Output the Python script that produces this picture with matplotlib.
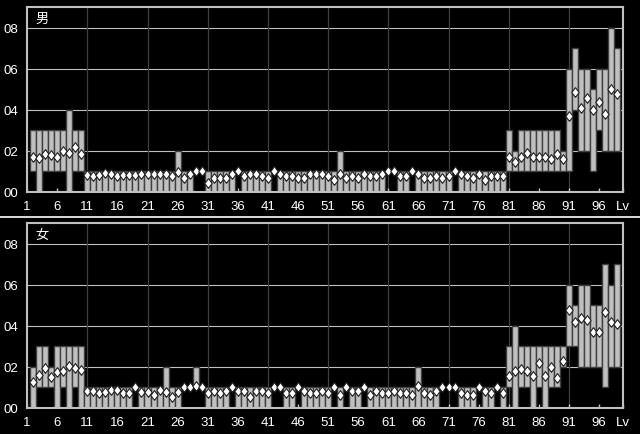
import matplotlib
matplotlib.use("Agg")
import matplotlib.pyplot as plt
from matplotlib.lines import Line2D

# levels 2..99 (level 1 has no data)
levels = list(range(2, 100))

male_min = [1, 0, 1, 1, 1, 1, 0, 1, 1,
            0, 0, 0, 0, 0, 0, 0, 0, 0, 0,
            0, 0, 0, 0, 0, 0, 0, 0, 1, 1,
            0, 0, 0, 0, 0, 1, 0, 0, 0, 0,
            0, 1, 0, 0, 0, 0, 0, 0, 0, 0,
            0, 0, 0, 0, 0, 0, 0, 0, 0, 0,
            1, 1, 0, 0, 1, 0, 0, 0, 0, 0,
            0, 1, 0, 0, 0, 0, 0, 0, 0, 0,
            1, 1, 1, 1, 1, 1, 1, 1, 1, 1,
            1, 4, 2, 2, 1, 3, 2, 2, 2]
male_max = [3, 3, 3, 3, 3, 3, 4, 3, 3,
            1, 1, 1, 1, 1, 1, 1, 1, 1, 1,
            1, 1, 1, 1, 1, 2, 1, 1, 1, 1,
            1, 1, 1, 1, 1, 1, 1, 1, 1, 1,
            1, 1, 1, 1, 1, 1, 1, 1, 1, 1,
            1, 1, 2, 1, 1, 1, 1, 1, 1, 1,
            1, 1, 1, 1, 1, 1, 1, 1, 1, 1,
            1, 1, 1, 1, 1, 1, 1, 1, 1, 1,
            3, 2, 3, 3, 3, 3, 3, 3, 3, 2,
            6, 7, 6, 6, 5, 6, 6, 8, 7]
male_avg = [1.67, 1.62, 1.83, 1.77, 1.67, 1.96, 1.87, 2.16, 1.83,
            0.83, 0.78, 0.83, 0.92, 0.88, 0.78, 0.83, 0.83, 0.83, 0.88,
            0.88, 0.88, 0.88, 0.88, 0.78, 0.97, 0.68, 0.88, 1.0, 1.0,
            0.42, 0.68, 0.68, 0.68, 0.88, 1.0, 0.78, 0.88, 0.88, 0.78,
            0.68, 1.0, 0.88, 0.78, 0.78, 0.68, 0.68, 0.88, 0.88, 0.88,
            0.78, 0.58, 0.88, 0.68, 0.78, 0.68, 0.88, 0.78, 0.78, 0.88,
            1.0, 1.0, 0.78, 0.78, 1.0, 0.88, 0.68, 0.68, 0.78, 0.68,
            0.78, 1.0, 0.88, 0.78, 0.68, 0.88, 0.58, 0.78, 0.78, 0.78,
            1.67, 1.47, 1.67, 1.91, 1.7, 1.7, 1.7, 1.58, 1.83, 1.58,
            3.71, 4.88, 4.1, 4.58, 4.0, 4.39, 3.81, 4.99, 4.78]

female_min = [0, 1, 1, 1, 0, 1, 0, 1, 0,
              0, 0, 0, 0, 0, 0, 0, 0, 1, 0,
              0, 0, 0, 0, 0, 0, 1, 1, 1, 1,
              0, 0, 0, 0, 1, 0, 0, 0, 0, 0,
              0, 1, 1, 0, 0, 1, 0, 0, 0, 0,
              0, 1, 0, 1, 0, 0, 1, 0, 0, 0,
              0, 0, 0, 0, 0, 0, 0, 0, 0, 1,
              1, 1, 0, 0, 0, 1, 0, 0, 1, 0,
              1, 0, 1, 1, 0, 1, 0, 1, 1, 2,
              3, 3, 2, 2, 2, 2, 1, 2, 2]
female_max = [2, 3, 3, 2, 3, 3, 3, 3, 3,
              1, 1, 1, 1, 1, 1, 1, 1, 1, 1,
              1, 1, 1, 2, 1, 1, 1, 1, 2, 1,
              1, 1, 1, 1, 1, 1, 1, 1, 1, 1,
              1, 1, 1, 1, 1, 1, 1, 1, 1, 1,
              1, 1, 1, 1, 1, 1, 1, 1, 1, 1,
              1, 1, 1, 1, 1, 2, 1, 1, 1, 1,
              1, 1, 1, 1, 1, 1, 1, 1, 1, 1,
              3, 4, 3, 3, 3, 3, 3, 3, 3, 3,
              6, 5, 6, 6, 5, 5, 7, 6, 7]
female_avg = [1.25, 1.6, 1.93, 1.49, 1.74, 1.82, 2.03, 1.93, 1.84,
              0.85, 0.85, 0.75, 0.8, 0.9, 0.9, 0.75, 0.75, 1.0, 0.78,
              0.78, 0.64, 0.88, 0.78, 0.54, 0.78, 1.0, 1.0, 1.07, 1.0,
              0.75, 0.85, 0.75, 0.85, 1.0, 0.85, 0.85, 0.55, 0.85, 0.85,
              0.75, 1.0, 1.0, 0.75, 0.75, 1.0, 0.85, 0.75, 0.75, 0.85,
              0.75, 1.0, 0.65, 1.0, 0.85, 0.85, 1.0, 0.65, 0.85, 0.75,
              0.75, 0.85, 0.75, 0.75, 0.65, 1.09, 0.75, 0.65, 0.85, 1.0,
              1.0, 1.0, 0.75, 0.65, 0.65, 1.0, 0.85, 0.75, 1.0, 0.75,
              1.54, 1.8, 1.91, 1.8, 1.54, 2.18, 1.54, 1.98, 1.46, 2.29,
              4.79, 4.19, 4.38, 4.28, 3.7, 3.7, 4.68, 4.19, 4.09]

x_ticks = [1, 6, 11, 16, 21, 26, 31, 36, 41, 46, 51, 56, 61, 66, 71, 76, 81, 86, 91, 96]
y_ticks = [0, 2, 4, 6, 8]
y_labels = ["00", "02", "04", "06", "08"]

LIGHT = "#c0c0c0"
DARK = "#404040"
diamond = [(0, -1), (0.75, 0), (0, 1), (-0.75, 0), (0, -1)]

plt.rcParams['font.family'] = ['Liberation Sans', 'DejaVu Sans']


def draw_panel(ax, title, mins, maxs, avgs):
    ax.set_facecolor("black")
    ax.set_xlim(0.9, 99.9)
    ax.set_ylim(0, 9)

    for y in y_ticks[1:]:
        ax.axhline(y, color=LIGHT, lw=0.8, zorder=0)
    for x in range(11, 100, 10):
        ax.axvline(x, color=DARK, lw=0.9, zorder=0)

    bx, bh, bb = [], [], []
    for lv, lo, hi in zip(levels, mins, maxs):
        if hi > lo:
            bx.append(lv)
            bh.append(hi - lo)
            bb.append(lo)
    ax.bar(bx, bh, bottom=bb, width=1.0, color=LIGHT, edgecolor=DARK,
           linewidth=1.0, zorder=2)

    ax.plot(levels, avgs, linestyle="none", marker=diamond, ms=7,
            mfc="white", mec="#202020", mew=0.8, zorder=3)

    for s in ax.spines.values():
        s.set_color(LIGHT)
        s.set_linewidth(1.5)

    ax.set_yticks(y_ticks)
    ax.set_yticklabels(y_labels)
    ax.set_xticks(x_ticks + [99.9])
    ax.set_xticklabels([str(t) for t in x_ticks] + ["Lv"])
    ax.tick_params(axis="y", length=0, pad=6, colors="white", labelsize=9.5)
    ax.tick_params(axis="x", direction="in", length=3, width=1, color=LIGHT,
                   pad=6, labelcolor="white", labelsize=9.5)

    ax.text(0.026, 0.94, title, transform=ax.transAxes, color="white",
            fontsize=9.5, ha="center", va="center",
            family=["Noto Sans CJK JP", "DejaVu Sans"])


fig = plt.figure(figsize=(6.4, 4.35), dpi=100, facecolor="black")
ax1 = fig.add_axes([26.5 / 640, 242.3 / 435, 596 / 640, 184.7 / 435])
ax2 = fig.add_axes([26.5 / 640, 26.0 / 435, 596 / 640, 184.7 / 435])

draw_panel(ax1, "男", male_min, male_max, male_avg)
draw_panel(ax2, "女", female_min, female_max, female_avg)

# separator between the two panels
fig.add_artist(Line2D([0, 1], [1 - 217.5 / 435, 1 - 217.5 / 435],
                      transform=fig.transFigure, color="white", lw=1.2))

fig.savefig("out.png", dpi=100, facecolor="black")
